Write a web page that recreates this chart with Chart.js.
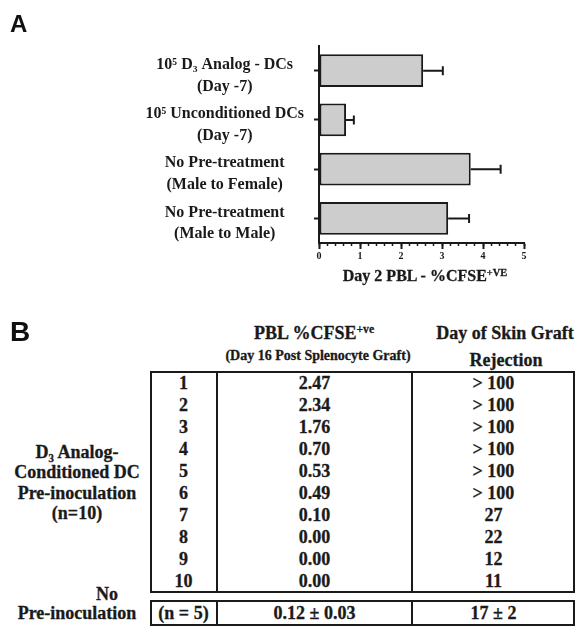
<!DOCTYPE html>
<html><head><meta charset="utf-8">
<script src="https://cdn.jsdelivr.net/npm/chart.js@4.4.1/dist/chart.umd.min.js"></script>
<style>
html,body{margin:0;padding:0;background:#fff;}
body{width:580px;height:626px;position:relative;overflow:hidden;font-family:"Liberation Serif","Times New Roman",serif;color:#1a1a1a;font-weight:bold;}
#chartA{position:absolute;left:0;top:0;}
.t{position:absolute;white-space:nowrap;line-height:1;transform:translate(-50%,-50%);-webkit-text-stroke:0.3px #1a1a1a;}
.sup{font-size:0.65em;line-height:1;vertical-align:0.55em;}
.panel{position:absolute;font-family:"Liberation Sans",Arial,sans-serif;font-weight:bold;line-height:1;color:#111;}
.box{position:absolute;border:2px solid #1a1a1a;box-sizing:border-box;}
.vline{position:absolute;width:2px;background:#1a1a1a;}
</style></head><body>
<canvas id="chartA" width="580" height="300"></canvas>
<div class="panel" style="left:10px;top:12px;font-size:24px;">A</div>
<div class="panel" style="left:10px;top:318px;font-size:28px;">B</div>
<div class="t" style="left:425px;top:276px;font-size:16px;">Day 2 PBL - %CFSE<span class="sup">+VE</span></div>
<div id="panelB"></div>
<script>
// ---- Panel A data ----
const categories = [
  ["10⁵ D₃ Analog - DCs", "(Day -7)"],
  ["10⁵ Unconditioned DCs", "(Day -7)"],
  ["No Pre-treatment", "(Male to Female)"],
  ["No Pre-treatment", "(Male to Male)"]
];
const meanValues = [2.54, 0.66, 3.70, 3.15];
const errorValues = [0.48, 0.19, 0.73, 0.51];
const xTickLabels = ["0", "1", "2", "3", "4", "5"];

// ---- Panel B data ----
const headerPBL = "PBL %CFSE";
const headerPBLSup = "+ve";
const headerPBLSub = "(Day 16 Post Splenocyte Graft)";
const headerRejection = ["Day of Skin Graft", "Rejection"];
const groupLabel = ["D₃ Analog-", "Conditioned DC", "Pre-inoculation", "(n=10)"];
const mouseIds = ["1", "2", "3", "4", "5", "6", "7", "8", "9", "10"];
const pblValues = ["2.47", "2.34", "1.76", "0.70", "0.53", "0.49", "0.10", "0.00", "0.00", "0.00"];
const rejectionDays = ["> 100", "> 100", "> 100", "> 100", "> 100", "> 100", "27", "22", "12", "11"];
const controlLabel = ["No", "Pre-inoculation"];
const controlRow = ["(n = 5)", "0.12 ± 0.03", "17 ± 2"];

const INK = '#1a1a1a';
const SERIF = '"Liberation Serif", "Times New Roman", serif';

const errorBarPlugin = {
  id: 'errorBars',
  afterDatasetsDraw(chart) {
    const ctx = chart.ctx;
    const xs = chart.scales.x;
    const meta = chart.getDatasetMeta(0);
    ctx.save();
    ctx.strokeStyle = INK;
    ctx.lineWidth = 2;
    meta.data.forEach((bar, i) => {
      const x0 = xs.getPixelForValue(meanValues[i]);
      const x1 = xs.getPixelForValue(meanValues[i] + errorValues[i]);
      const y = bar.y;
      ctx.beginPath();
      ctx.moveTo(x0, y); ctx.lineTo(x1, y);
      ctx.moveTo(x1, y - 4.5); ctx.lineTo(x1, y + 4.5);
      ctx.stroke();
    });
    ctx.restore();
  }
};

new Chart(document.getElementById('chartA'), {
  type: 'bar',
  data: {
    labels: categories,
    datasets: [{
      data: meanValues,
      backgroundColor: '#cdcdcd',
      borderColor: INK,
      borderWidth: 2,
      borderSkipped: false,
      barPercentage: 0.67,
      categoryPercentage: 1
    }]
  },
  options: {
    indexAxis: 'y',
    responsive: false,
    animation: false,
    devicePixelRatio: 1,
    layout: { padding: { top: 46, right: 56, bottom: 0, left: 0 } },
    plugins: { legend: { display: false }, tooltip: { enabled: false } },
    scales: {
      y: {
        type: 'category',
        offset: true,
        grid: { drawOnChartArea: false, offset: false, tickLength: 5, tickWidth: 2, tickColor: INK },
        border: { display: true, color: INK, width: 2 },
        ticks: { crossAlign: 'center', padding: 10, labelOffset: 5, color: INK,
                 font: { family: SERIF, weight: 'bold', size: 16, lineHeight: 1.35 } },
        afterFit(s) { s.width = 319; }
      },
      x: {
        type: 'linear', position: 'bottom', min: 0, max: 5, weight: 1,
        grid: { drawOnChartArea: false, tickLength: 6, tickWidth: 2, tickColor: INK },
        border: { display: true, color: INK, width: 2 },
        ticks: { stepSize: 1, padding: 1, autoSkip: false, maxRotation: 0, color: INK,
                 font: { family: SERIF, weight: 'bold', size: 10 },
                 callback: (v) => xTickLabels[Math.round(v)] },
        afterFit(s) { s.height = 57; }
      },
      xMinor: {
        type: 'linear', position: 'bottom', min: 0, max: 5, weight: 0,
        grid: { drawOnChartArea: false, tickLength: 3, tickWidth: 1.5, tickColor: INK },
        border: { display: false },
        ticks: { stepSize: 0.2, autoSkip: false, display: false },
        afterFit(s) { s.height = 0; }
      }
    }
  },
  plugins: [errorBarPlugin]
});

// ---- Panel B table ----
const pb = document.getElementById('panelB');
function txt(html, cx, cy, size) {
  const d = document.createElement('div');
  d.className = 't';
  d.style.left = cx + 'px';
  d.style.top = cy + 'px';
  d.style.fontSize = size + 'px';
  d.innerHTML = html;
  pb.appendChild(d);
}
function box(l, t, r, b) {
  const d = document.createElement('div');
  d.className = 'box';
  d.style.left = l + 'px'; d.style.top = t + 'px';
  d.style.width = (r - l) + 'px'; d.style.height = (b - t) + 'px';
  pb.appendChild(d);
}
function vline(x, t, b) {
  const d = document.createElement('div');
  d.className = 'vline';
  d.style.left = (x - 1) + 'px'; d.style.top = t + 'px'; d.style.height = (b - t) + 'px';
  pb.appendChild(d);
}
const colL = 150, col1 = 217, col2 = 412, colR = 575;
const c1 = (colL + col1) / 2, c2 = (col1 + col2) / 2, c3 = (col2 + colR) / 2;
const boxTop = 371, boxBot = 593, rowH = 22;

txt(headerPBL + '<span class="sup">' + headerPBLSup + '</span>', 314, 333, 18);
txt(headerPBLSub, 318, 356, 14);
txt(headerRejection[0], 505, 333, 18);
txt(headerRejection[1], 506, 360, 18);

box(colL, boxTop, colR, boxBot);
vline(col1, boxTop, boxBot);
vline(col2, boxTop, boxBot);
for (let i = 0; i < mouseIds.length; i++) {
  const cy = boxTop + 12 + i * rowH;
  txt(mouseIds[i], c1, cy, 18);
  txt(pblValues[i], c2, cy, 18);
  txt(rejectionDays[i], c3, cy, 18);
}
groupLabel.forEach((s, i) => txt(s, 77, 452 + i * 20.3, 18));

box(colL, 600, colR, 626);
vline(col1, 600, 626);
vline(col2, 600, 626);
txt(controlRow[0], c1, 613, 18);
txt(controlRow[1], c2, 613, 18);
txt(controlRow[2], c3, 613, 18);
txt(controlLabel[0], 107, 594, 18);
txt(controlLabel[1], 77, 613, 18);
</script>
</body></html>
